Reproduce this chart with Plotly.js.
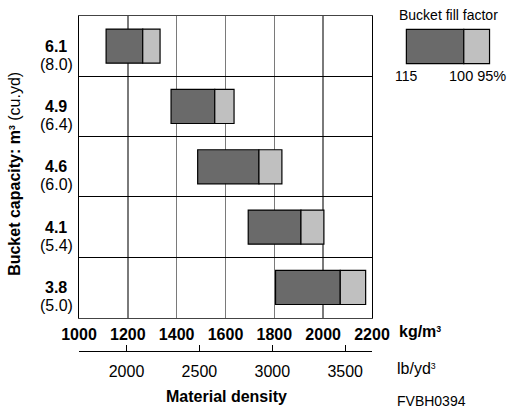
<!DOCTYPE html>
<html>
<head>
<meta charset="utf-8">
<script src="https://cdn.plot.ly/plotly-3.0.1.min.js"></script>
<style>html,body{margin:0;padding:0;background:#fff;}#chart{width:509px;height:408px;}</style>
</head>
<body>
<div id="chart"></div>
<script>
// ---- data ----
var capacityM3 = ['6.1', '4.9', '4.6', '4.1', '3.8'];
var capacityYd = ['(8.0)', '(6.4)', '(6.0)', '(5.4)', '(5.0)'];
var density115 = [1111, 1377, 1486, 1693, 1805];   // kg/m3 at 115 % fill
var density100 = [1261, 1556, 1737, 1909, 2070];   // kg/m3 at 100 % fill
var density95  = [1332, 1635, 1831, 2003, 2174];   // kg/m3 at 95 % fill
var kgTicks = [1000, 1200, 1400, 1600, 1800, 2000, 2200];
var lbTicks = [2000, 2500, 3000, 3500];

// ---- layout helpers (pixel -> paper) ----
var W = 509, H = 408;
var L = 79.3, R = 371.7, T = 15.7, PB = 317.3, B2 = 350.7;
function px(x) { return (x - L) / (R - L); }
function py(y) { return (B2 - y) / (B2 - T); }

var FONT = '"Liberation Sans", Arial, Helvetica, sans-serif';
var DARK = '#6a6a6a', LIGHT = '#c0c0c0';
var SUP3 = '<span style="font-size:12.5px"><sup>3</sup></span>';

var order = capacityM3.slice().reverse();   // bottom -> top

var dark = {
  type: 'bar', orientation: 'h',
  y: capacityM3,
  base: density115,
  x: density100.map(function (v, i) { return v - density115[i]; }),
  width: 0.565,
  marker: {color: DARK, line: {color: '#000', width: 1.2}},
  hoverinfo: 'skip', showlegend: false
};
var light = {
  type: 'bar', orientation: 'h',
  y: capacityM3,
  base: density100,
  x: density95.map(function (v, i) { return v - density100[i]; }),
  width: 0.565,
  marker: {color: LIGHT, line: {color: '#000', width: 1.2}},
  hoverinfo: 'skip', showlegend: false
};
// invisible trace to activate the secondary (lb/yd3) axis
var lbTrace = {
  type: 'scatter', mode: 'markers', x: lbTicks, y: lbTicks.map(function () { return capacityM3[0]; }),
  xaxis: 'x2', yaxis: 'y', marker: {opacity: 0}, hoverinfo: 'skip', showlegend: false
};

var annotations = [];
capacityM3.forEach(function (c, i) {
  var yi = order.indexOf(c);
  annotations.push({xref: 'paper', yref: 'y', x: px(56.5), y: yi, text: '<b>' + c + '</b>',
    showarrow: false, xanchor: 'center', yanchor: 'middle', yshift: 0,
    font: {family: FONT, size: 16, color: '#000'}});
  annotations.push({xref: 'paper', yref: 'y', x: px(56.5), y: yi, text: capacityYd[i],
    showarrow: false, xanchor: 'center', yanchor: 'middle', yshift: -18,
    font: {family: FONT, size: 16, color: '#000'}});
});
function ann(text, x, y, xa, size, extra) {
  var a = {xref: 'paper', yref: 'paper', x: px(x), y: py(y), text: text, showarrow: false,
    xanchor: xa, yanchor: 'middle', font: {family: FONT, size: size, color: '#000'}};
  if (extra) for (var k in extra) a[k] = extra[k];
  annotations.push(a);
}
ann('<b>Bucket capacity: m' + SUP3 + '</b> (cu.yd)', 15, 174, 'center', 16, {textangle: -90});
ann('<b>kg/m' + SUP3 + '</b>', 397, 331, 'left', 16);
ann('lb/yd' + SUP3, 395, 368, 'left', 16);
ann('<b>Material density</b>', 226.7, 396, 'center', 16);
ann('FVBH0394', 395, 400.5, 'left', 14);
ann('Bucket fill factor', 448, 15, 'center', 14);
ann('115', 406, 76, 'center', 14);
ann('100 95%', 447, 76, 'left', 14.5);

var shapes = [
  {type: 'rect', xref: 'paper', yref: 'paper', x0: px(406), x1: px(463.3), y0: py(63.3), y1: py(29),
   fillcolor: DARK, line: {color: '#000', width: 1.2}},
  {type: 'rect', xref: 'paper', yref: 'paper', x0: px(463.3), x1: px(489), y0: py(63.3), y1: py(29),
   fillcolor: LIGHT, line: {color: '#000', width: 1.2}}
];

var layout = {
  width: W, height: H,
  margin: {l: L, r: W - R, t: T, b: H - B2, pad: 0},
  paper_bgcolor: '#fff', plot_bgcolor: '#fff',
  font: {family: FONT, size: 16, color: '#000'},
  barmode: 'overlay',
  xaxis: {
    range: [1000, 2200], tickvals: kgTicks, ticks: '', showgrid: true,
    gridcolor: '#7a7a7a', gridwidth: 1.5, zeroline: false,
    showline: true, linecolor: '#444', linewidth: 1, mirror: true,
    tickfont: {family: FONT, size: 16, weight: 'bold', color: '#000'},
    ticklabelstandoff: 2,
    anchor: 'y'
  },
  xaxis2: {
    overlaying: 'x', anchor: 'free', position: 0, side: 'bottom',
    range: [1674, 3684], tickvals: lbTicks, ticks: 'inside', ticklen: 6, tickcolor: '#000', tickwidth: 1,
    showgrid: false, zeroline: false, showline: true, linecolor: '#000', linewidth: 1.2,
    tickfont: {family: FONT, size: 16, color: '#000'},
    ticklabelstandoff: 6
  },
  yaxis: {
    type: 'category', categoryarray: order,
    range: [-0.5, 4.5], domain: [(B2 - PB) / (B2 - T), 1],
    tickson: 'boundaries', showgrid: true, gridcolor: '#000', gridwidth: 1,
    showticklabels: false, ticks: '', zeroline: false,
    showline: true, linecolor: '#000', linewidth: 1.2, mirror: true
  },
  annotations: annotations,
  shapes: shapes
};

Plotly.newPlot('chart', [dark, light, lbTrace], layout, {staticPlot: true, displayModeBar: false});
</script>
</body>
</html>
